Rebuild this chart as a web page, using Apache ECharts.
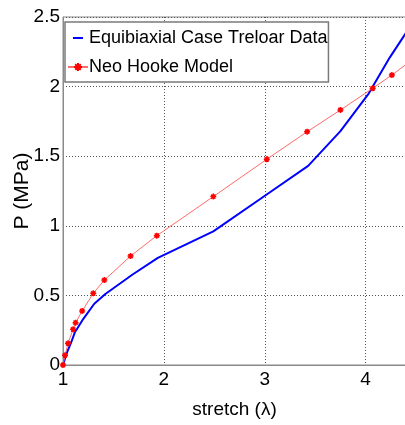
<!DOCTYPE html>
<html>
<head>
<meta charset="utf-8">
<script src="https://cdn.jsdelivr.net/npm/echarts@6/dist/echarts.min.js"></script>
<style>
html,body{margin:0;padding:0;background:#fff;}
#chart{width:405px;height:425px;}
</style>
</head>
<body>
<div id="chart"></div>
<script>
// Treloar equibiaxial data (blue line)
const dataStretch = [1.0, 1.04, 1.08, 1.12, 1.14, 1.2, 1.31, 1.42, 1.69, 1.94, 2.49, 3.03, 3.43, 3.75, 4.03, 4.24, 4.44];
const dataP = [0, 0.09, 0.16, 0.24, 0.26, 0.33, 0.44, 0.51, 0.65, 0.77, 0.96, 1.23, 1.43, 1.68, 1.95, 2.21, 2.43];
// Neo Hooke model (red line with markers)
const modelStretch = [1.0, 1.02, 1.05, 1.10, 1.125, 1.19, 1.30, 1.41, 1.67, 1.93, 2.49, 3.02, 3.42, 3.75, 4.07, 4.26, 4.44];
const modelP = [0, 0.07, 0.156, 0.256, 0.304, 0.388, 0.515, 0.61, 0.783, 0.929, 1.21, 1.478, 1.676, 1.832, 1.988, 2.083, 2.18];
const yTicks = [0, 0.5, 1, 1.5, 2, 2.5];
const xTicks = [1, 2, 3, 4];

const zip = (a, b) => a.map((v, i) => [v, b[i]]);
const FONT = "'Liberation Sans', Arial, sans-serif";
const asterisk = 'path://M0,-10L0,10M-10,0L10,0M-7,-7L7,7M-7,7L7,-7';
const lineIcon = 'path://M0,0M0,8L20,8L20,12L0,12ZM20,20';

const chart = echarts.init(document.getElementById('chart'));
chart.setOption({
  animation: false,
  backgroundColor: '#fff',
  grid: {left: 63, right: -1, top: 17, bottom: 60, outerBoundsMode: 'none', containLabel: false,
    show: true, borderColor: '#8a8a8a', borderWidth: 1, backgroundColor: 'transparent'},
  legend: {
    orient: 'vertical', left: 65, top: 22,
    backgroundColor: '#fff', borderColor: '#7a7a7a', borderWidth: 1.5,
    padding: [7, 1, 6, 2], itemGap: 11, itemWidth: 20, itemHeight: 10,
    textStyle: {fontFamily: FONT, fontSize: 18, color: '#000', padding: [0, 0, 0, -4]},
    data: [
      {name: 'Equibiaxial Case Treloar Data', icon: lineIcon, itemStyle: {color: '#0000ff'}},
      {name: 'Neo Hooke Model'}
    ]
  },
  xAxis: {
    type: 'value', min: 1, max: 4.4, interval: 1,
    name: 'stretch (\u03bb)', nameLocation: 'middle', nameGap: 35,
    nameTextStyle: {fontFamily: FONT, fontSize: 19, color: '#000'},
    axisLine: {show: true, onZero: false, lineStyle: {color: '#8a8a8a', width: 1}},
    axisTick: {show: false},
    axisLabel: {fontFamily: FONT, fontSize: 19, color: '#000', margin: 5, showMaxLabel: false,
      formatter: v => xTicks.includes(v) ? String(v) : ''},
    splitLine: {show: true, lineStyle: {color: '#555', type: [1, 2], width: 1}}
  },
  yAxis: {
    type: 'value', min: 0, max: 2.5, interval: 0.5,
    name: 'P (MPa)', nameLocation: 'middle', nameGap: 30, nameRotate: 90, nameMoveOverlap: false,
    nameTextStyle: {fontFamily: FONT, fontSize: 21, color: '#000'},
    axisLine: {show: true, lineStyle: {color: '#8a8a8a', width: 1}},
    axisTick: {show: false},
    axisLabel: {fontFamily: FONT, fontSize: 19, color: '#000', margin: 3,
      formatter: v => yTicks.includes(v) ? String(v) : ''},
    splitLine: {show: true, lineStyle: {color: '#555', type: [1, 2], width: 1}}
  },
  series: [
    {
      name: 'Equibiaxial Case Treloar Data', type: 'line', data: zip(dataStretch, dataP),
      symbol: 'none', smooth: false, clip: true,
      lineStyle: {color: '#0000ff', width: 2}, itemStyle: {color: '#0000ff'}, z: 3
    },
    {
      name: 'Neo Hooke Model', type: 'line', data: zip(modelStretch, modelP),
      symbol: asterisk, symbolSize: 6, showAllSymbol: true, clip: true,
      lineStyle: {color: '#ff6a6a', width: 1},
      itemStyle: {color: '#ff0000', borderColor: '#ff0000', borderWidth: 1.5}, z: 4
    }
  ]
});
</script>
</body>
</html>
